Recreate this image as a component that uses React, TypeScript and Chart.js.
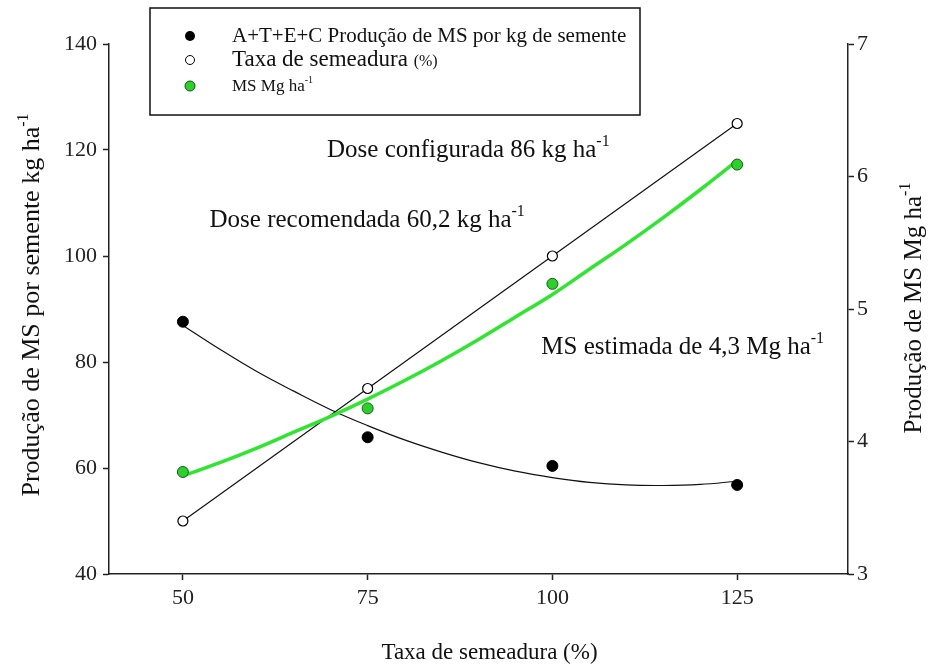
import React, { useEffect, useRef } from "react";
import { Chart, registerables } from "chart.js";

Chart.register(...registerables);

// ---- data ----
const xTicks = [50, 75, 100, 125];
const xVals = [50, 75, 100, 125];
const seedProd = [87.6, 65.8, 60.4, 56.8]; // A+T+E+C Produção de MS por kg de semente (left axis)
const seedRate = [50, 75, 100, 125]; // Taxa de semeadura (%) (left axis)
const msMg = [3.77, 4.25, 5.19, 6.09]; // MS Mg ha-1 (right axis)
const fitX = [50, 55, 60, 65, 70, 75, 80, 85, 90, 95, 100, 105, 110, 115, 120, 125];
const seedProdFit = [86.9, 82.4, 78.2, 74.5, 71.0, 68.0, 65.3, 63.0, 61.0, 59.4, 58.2, 57.3, 56.8, 56.7, 56.9, 57.5];
const seedRateFit = [50, 125];
const seedRateFitX = [50, 125];
const msMgFit = [3.74, 3.84, 3.95, 4.07, 4.19, 4.32, 4.46, 4.61, 4.77, 4.94, 5.11, 5.3, 5.49, 5.69, 5.9, 6.12];

const legendLabels = [
  "A+T+E+C Produção de MS por kg de semente",
  "Taxa de semeadura",
  "MS Mg ha",
];

const FONT = "'Liberation Serif', 'Times New Roman', serif";
const GREEN = "rgb(40,210,40)";
const GREEN_LINE = "rgb(45,230,45)";

type Seg = { t: string; size: number; dy?: number };

function richWidth(ctx: CanvasRenderingContext2D, segs: Seg[]) {
  let w = 0;
  for (const s of segs) {
    ctx.font = `${s.size}px ${FONT}`;
    w += ctx.measureText(s.t).width;
  }
  return w;
}

function drawRich(
  ctx: CanvasRenderingContext2D,
  segs: Seg[],
  x: number,
  y: number,
  align: "left" | "center" = "left"
) {
  let cx = align === "center" ? x - richWidth(ctx, segs) / 2 : x;
  ctx.textBaseline = "alphabetic";
  ctx.textAlign = "left";
  for (const s of segs) {
    ctx.font = `${s.size}px ${FONT}`;
    ctx.fillText(s.t, cx, y + (s.dy || 0));
    cx += ctx.measureText(s.t).width;
  }
}

const textPlugin = {
  id: "customTexts",
  afterDraw(chart: any) {
    const ctx: CanvasRenderingContext2D = chart.ctx;
    const xs = chart.scales.x;
    const ys = chart.scales.y;
    ctx.save();
    ctx.fillStyle = "#111";

    // annotations (anchored to data coordinates)
    drawRich(
      ctx,
      [
        { t: "Dose configurada 86 kg ha", size: 25 },
        { t: "-1", size: 16, dy: -11 },
      ],
      xs.getPixelForValue(69.5),
      ys.getPixelForValue(118.6)
    );
    drawRich(
      ctx,
      [
        { t: "Dose recomendada 60,2 kg ha", size: 25 },
        { t: "-1", size: 16, dy: -11 },
      ],
      xs.getPixelForValue(53.6),
      ys.getPixelForValue(105.4)
    );
    drawRich(
      ctx,
      [
        { t: "MS estimada de 4,3 Mg ha", size: 25 },
        { t: "-1", size: 16, dy: -11 },
      ],
      xs.getPixelForValue(98.5),
      ys.getPixelForValue(81.6)
    );

    // axis titles
    const ca = chart.chartArea;
    drawRich(ctx, [{ t: "Taxa de semeadura (%)", size: 23 }], (ca.left + ca.right) / 2 + 11, 659, "center");

    ctx.save();
    ctx.translate(39, (ca.top + ca.bottom) / 2 - 4);
    ctx.rotate(-Math.PI / 2);
    drawRich(
      ctx,
      [
        { t: "Produção de MS por semente kg ha", size: 26 },
        { t: "-1", size: 16, dy: -11 },
      ],
      0,
      0,
      "center"
    );
    ctx.restore();

    ctx.save();
    ctx.translate(921, (ca.top + ca.bottom) / 2 - 1);
    ctx.rotate(-Math.PI / 2);
    drawRich(
      ctx,
      [
        { t: "Produção de MS Mg ha", size: 25 },
        { t: "-1", size: 16, dy: -11 },
      ],
      0,
      0,
      "center"
    );
    ctx.restore();

    // legend box
    ctx.strokeStyle = "#111";
    ctx.lineWidth = 1.5;
    ctx.strokeRect(150, 8, 490, 107);
    const mx = 190;
    const rows = [36, 60, 86];
    // markers
    ctx.lineWidth = 1;
    ctx.beginPath();
    ctx.arc(mx, rows[0], 5, 0, Math.PI * 2);
    ctx.fillStyle = "#000";
    ctx.fill();
    ctx.beginPath();
    ctx.arc(mx, rows[1], 4.5, 0, Math.PI * 2);
    ctx.fillStyle = "#fff";
    ctx.fill();
    ctx.strokeStyle = "#000";
    ctx.stroke();
    ctx.beginPath();
    ctx.arc(mx, rows[2], 5, 0, Math.PI * 2);
    ctx.fillStyle = GREEN;
    ctx.fill();
    ctx.strokeStyle = "#155015";
    ctx.stroke();

    ctx.fillStyle = "#111";
    drawRich(ctx, [{ t: legendLabels[0], size: 21 }], 232, 42);
    drawRich(
      ctx,
      [
        { t: legendLabels[1] + " ", size: 23 },
        { t: "(%)", size: 16 },
      ],
      232,
      66
    );
    drawRich(
      ctx,
      [
        { t: legendLabels[2], size: 17 },
        { t: "-1", size: 10, dy: -8 },
      ],
      232,
      91
    );
    ctx.restore();
  },
};

function pts(xArr: number[], yArr: number[]) {
  return xArr.map((x, i) => ({ x, y: yArr[i] }));
}

export default function App() {
  const ref = useRef<HTMLCanvasElement | null>(null);
  useEffect(() => {
    if (!ref.current) return;
    const axisBorder = { display: true, color: "#222", width: 1.5 };
    const gridCfg = {
      display: true,
      drawOnChartArea: false,
      drawTicks: true,
      tickLength: 6,
      tickColor: "#222",
      tickWidth: 1.5,
    };
    const tickFont = { family: FONT, size: 22 };
    const chart = new Chart(ref.current, {
      type: "scatter",
      data: {
        datasets: [
          {
            label: legendLabels[0],
            data: pts(xVals, seedProd),
            yAxisID: "y",
            showLine: false,
            pointRadius: 5.5,
            pointBackgroundColor: "#000",
            pointBorderColor: "#000",
            order: 0,
          },
          {
            label: legendLabels[1],
            data: pts(xVals, seedRate),
            yAxisID: "y",
            showLine: false,
            pointRadius: 5,
            pointBackgroundColor: "#fff",
            pointBorderColor: "#000",
            pointBorderWidth: 1.2,
            order: 0,
          },
          {
            label: legendLabels[2],
            data: pts(xVals, msMg),
            yAxisID: "y1",
            showLine: false,
            pointRadius: 5.5,
            pointBackgroundColor: GREEN,
            pointBorderColor: "#1d5a1d",
            pointBorderWidth: 1,
            order: 0,
          },
          {
            label: "fit MS",
            data: pts(fitX, msMgFit),
            yAxisID: "y1",
            showLine: true,
            pointRadius: 0,
            borderColor: GREEN_LINE,
            borderWidth: 3.5,
            tension: 0.4,
            order: 1,
          },
          {
            label: "fit seed",
            data: pts(fitX, seedProdFit),
            yAxisID: "y",
            showLine: true,
            pointRadius: 0,
            borderColor: "#111",
            borderWidth: 1.2,
            tension: 0.4,
            order: 2,
          },
          {
            label: "fit rate",
            data: pts(seedRateFitX, seedRateFit),
            yAxisID: "y",
            showLine: true,
            pointRadius: 0,
            borderColor: "#111",
            borderWidth: 1.2,
            order: 2,
          },
        ],
      },
      options: {
        animation: false,
        responsive: true,
        maintainAspectRatio: false,
        layout: { padding: { top: 44, left: 0, right: 0, bottom: 0 } },
        plugins: { legend: { display: false }, tooltip: { enabled: false } },
        scales: {
          x: {
            type: "linear",
            min: 40,
            max: 140,
            position: "bottom",
            border: axisBorder,
            grid: gridCfg,
            afterBuildTicks: (s: any) => {
              s.ticks = xTicks.map((v) => ({ value: v }));
            },
            afterFit: (s: any) => {
              s.height = 92;
            },
            ticks: { font: tickFont, color: "#222", padding: 5 },
          },
          y: {
            type: "linear",
            min: 40,
            max: 140,
            position: "left",
            border: axisBorder,
            grid: gridCfg,
            afterFit: (s: any) => {
              s.width = 109;
            },
            ticks: { stepSize: 20, font: tickFont, color: "#222", padding: 6 },
          },
          y1: {
            type: "linear",
            min: 3,
            max: 7,
            position: "right",
            border: axisBorder,
            grid: gridCfg,
            afterFit: (s: any) => {
              s.width = 84;
            },
            ticks: { stepSize: 1, font: tickFont, color: "#222", padding: 3 },
          },
        },
      },
      plugins: [textPlugin],
    } as any);
    return () => chart.destroy();
  }, []);
  return (
    <div
      style={{
        position: "fixed",
        left: 0,
        top: 0,
        width: 932,
        height: 666,
        background: "#fff",
      }}
    >
      <canvas ref={ref} />
    </div>
  );
}
